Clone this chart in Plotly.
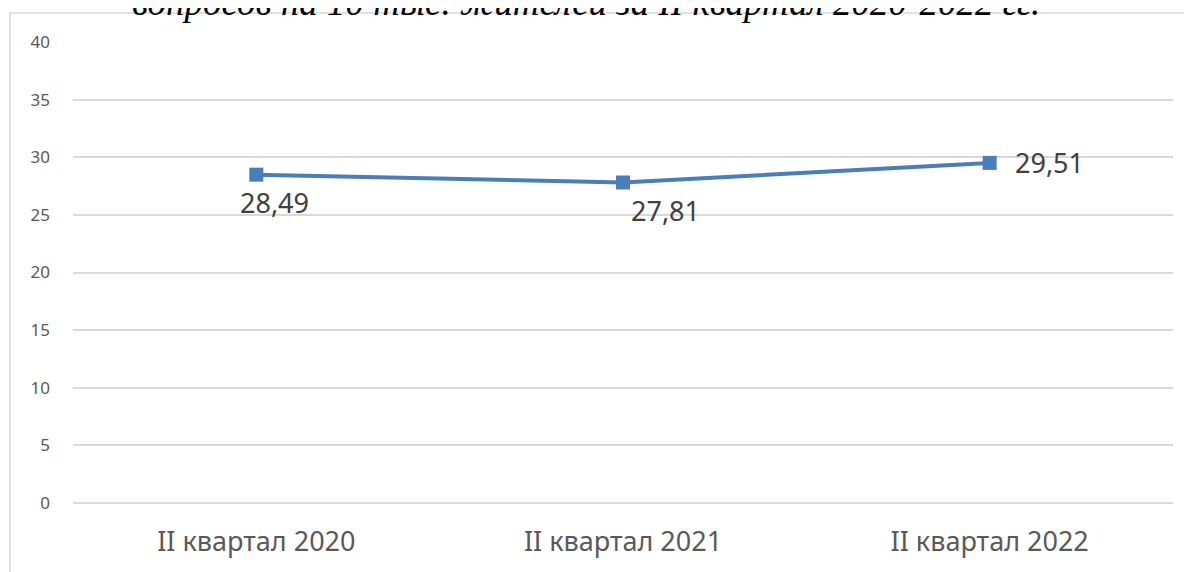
import plotly.graph_objects as go

categories = ["II квартал 2020", "II квартал 2021", "II квартал 2022"]
values = [28.49, 27.81, 29.51]
y_ticks = [0, 5, 10, 15, 20, 25, 30, 35, 40]
title_text = "вопросов на 10 тыс. жителей за II квартал 2020-2022 гг."

# label placement per point: (xshift, yshift)
label_shifts = [(18, -28), (42, -28), (60, 0)]

# the page body adds an 8px offset, so figure coords = page coords - 8
OFF = 8
W, H = 1192, 572
L, T = 73 - OFF, 42 - OFF
R = W - (1173 - OFF)
B = H - (503 - OFF)
pw = W - L - R
ph = H - T - B

def px_x(x):
    return (x - OFF - L) / pw

def px_y(y):
    return (H - B - (y - OFF)) / ph

blue = "#4A7EBB"
grey_text = "#595959"
grid = "#D9D9D9"

fig = go.Figure()
fig.add_trace(go.Scatter(
    x=categories, y=values, mode="lines+markers",
    line=dict(color=blue, width=4),
    marker=dict(symbol="square", size=14, color=blue),
    hoverinfo="skip", showlegend=False,
))

annotations = []
for c, v, (dx, dy) in zip(categories, values, label_shifts):
    annotations.append(dict(
        x=c, y=v, xref="x", yref="y", text=f"{v:.2f}".replace(".", ","),
        showarrow=False, xshift=dx, yshift=dy,
        font=dict(family="Noto Sans", size=27, color="#404040"),
    ))

annotations.append(dict(
    x=px_x(586), y=px_y(25), xref="paper", yref="paper", text=title_text,
    showarrow=False, xanchor="center", yanchor="bottom",
    font=dict(family="Liberation Serif", size=37, color="#000000", style="italic"),
))

fig.add_shape(type="rect", xref="paper", yref="paper",
              x0=px_x(10), x1=px_x(1215), y0=px_y(600), y1=px_y(13),
              line=dict(color=grid, width=1.5), fillcolor="rgba(0,0,0,0)", layer="below")

fig.update_layout(
    width=W, height=H,
    margin=dict(l=L, r=R, t=T, b=B, autoexpand=False),
    paper_bgcolor="white", plot_bgcolor="white",
    font=dict(family="Noto Sans", color=grey_text),
    annotations=annotations,
    xaxis=dict(
        type="category", range=[-0.5, 2.5], showgrid=False, zeroline=False,
        showline=False, ticks="", ticklabelstandoff=20, automargin=False,
        tickfont=dict(family="Noto Sans", size=27, color=grey_text),
    ),
    yaxis=dict(
        range=[0, 40], tickvals=y_ticks, showgrid=True, gridcolor=grid, gridwidth=1.5,
        zeroline=True, zerolinecolor=grid, zerolinewidth=1.5,
        showline=False, ticks="", ticklabelstandoff=22, automargin=False,
        tickfont=dict(family="Noto Sans", size=17, color=grey_text),
    ),
)

fig.write_html("out.html")
